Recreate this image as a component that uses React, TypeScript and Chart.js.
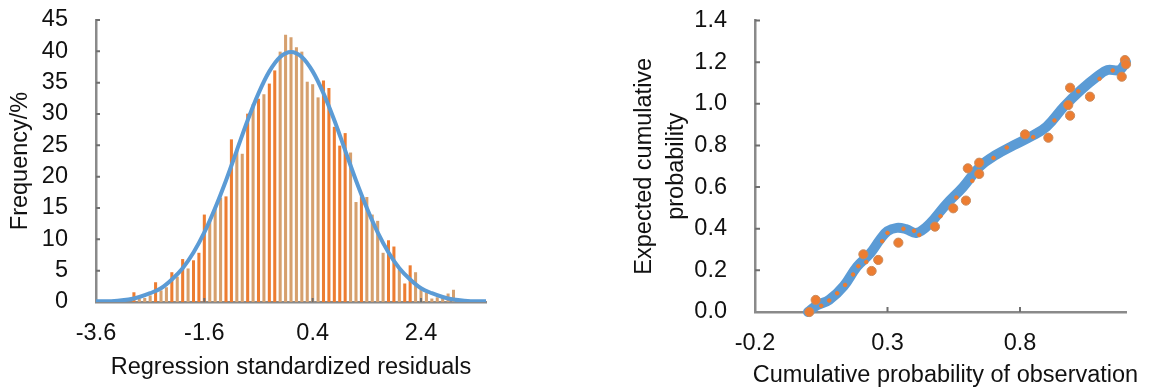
import React, { useEffect, useRef } from 'react';
import { Chart, registerables } from 'chart.js';

Chart.register(...registerables);

// ---------- Left chart: histogram of regression standardized residuals ----------
const HIST_X_TICKS = [-3.6, -1.6, 0.4, 2.4];
const BAR_X = [
  -2.9, -2.8, -2.7, -2.6, -2.5, -2.4, -2.3, -2.2, -2.1, -2.0,
  -1.9, -1.8, -1.7, -1.6, -1.5, -1.4, -1.3, -1.2, -1.1, -1.0,
  -0.9, -0.8, -0.7, -0.6, -0.5, -0.4, -0.3, -0.2, -0.1, 0.0,
  0.1, 0.2, 0.3, 0.4, 0.5, 0.6, 0.7, 0.8, 0.9, 1.0,
  1.1, 1.2, 1.3, 1.4, 1.5, 1.6, 1.7, 1.8, 1.9, 2.0,
  2.1, 2.2, 2.3, 2.4, 2.5, 2.6, 2.7, 2.8, 2.9, 3.0,
];
const BAR_FREQ = [
  1.5, 0.5, 0.6, 1.0, 3.1, 1.8, 2.3, 4.7, 4.0, 6.8,
  5.3, 6.6, 7.8, 13.9, 13.0, 15.0, 16.6, 16.8, 25.9, 24.2,
  23.6, 30.0, 31.5, 32.4, 33.1, 34.8, 36.9, 39.9, 42.6, 42.2,
  40.6, 39.9, 35.1, 34.7, 32.6, 35.3, 34.1, 27.9, 24.9, 26.9,
  23.8, 15.9, 16.8, 16.7, 13.9, 12.9, 7.8, 9.8, 8.8, 5.1,
  2.9, 5.8, 4.7, 1.9, 1.5, 0.5, 0.7, 0.6, 1.3, 1.9,
];
// tone of each bar as it appears in the picture: o = bright orange, t = tan
const BAR_TONE = [
  'o', 't', 't', 't', 'o', 't', 't', 'o', 't', 'o',
  't', 'o', 'o', 'o', 't', 't', 't', 'o', 'o', 't',
  't', 'o', 't', 'o', 't', 'o', 'o', 't', 't', 't',
  't', 't', 't', 't', 't', 'o', 'o', 'o', 'o', 'o',
  't', 't', 'o', 't', 't', 't', 't', 'o', 'o', 't',
  'o', 'o', 't', 't', 't', 't', 't', 't', 't', 't',
];
const CURVE_X = [
  -3.6, -3.4, -3.2, -3.0, -2.8, -2.6, -2.4, -2.2, -2.0, -1.8,
  -1.6, -1.4, -1.2, -1.0, -0.8, -0.6, -0.4, -0.2, 0.0, 0.2,
  0.4, 0.6, 0.8, 1.0, 1.2, 1.4, 1.6, 1.8, 2.0, 2.2,
  2.4, 2.6, 2.8, 3.0, 3.2, 3.4, 3.6,
];
const CURVE_Y = [
  0.1, 0.1, 0.2, 0.4, 0.8, 1.4, 2.2, 3.6, 5.4, 7.9,
  11.1, 15.0, 19.4, 24.2, 29.0, 33.3, 36.8, 39.1, 39.9, 39.1,
  36.8, 33.3, 29.0, 24.2, 19.4, 15.0, 11.1, 7.9, 5.4, 3.6,
  2.2, 1.4, 0.8, 0.4, 0.2, 0.1, 0.1,
];

// ---------- Right chart: cumulative probability plot ----------
const PP_X_TICKS = [-0.2, 0.3, 0.8];
const PP_Y_TICKS = [0, 0.2, 0.4, 0.6, 0.8, 1.0, 1.2, 1.4];
const EXPECTED_X = [
  0.0, 0.035, 0.08, 0.135, 0.185, 0.235, 0.272, 0.30, 0.335, 0.37,
  0.41, 0.46, 0.52, 0.585, 0.65, 0.71, 0.775, 0.84, 0.90, 0.965,
  1.03, 1.09, 1.13, 1.175, 1.2,
];
const EXPECTED_Y = [
  0.0, 0.033, 0.058, 0.125, 0.218, 0.282, 0.348, 0.388, 0.404, 0.398,
  0.38, 0.425, 0.515, 0.60, 0.70, 0.755, 0.80, 0.842, 0.89, 0.985,
  1.066, 1.13, 1.162, 1.162, 1.2,
];
const OBS_X = [
  0.005, 0.029, 0.05, 0.08, 0.11, 0.14, 0.17, 0.19, 0.209, 0.22,
  0.24, 0.265, 0.28, 0.30, 0.341, 0.36, 0.40, 0.42, 0.479, 0.50,
  0.548, 0.56, 0.596, 0.603, 0.62, 0.646, 0.646, 0.70, 0.75, 0.819,
  0.85, 0.907, 0.93, 0.982, 0.989, 0.989, 1.02, 1.064, 1.10, 1.15,
  1.184, 1.196, 1.2,
];
const OBS_Y = [
  0.0, 0.058, 0.03, 0.055, 0.09, 0.13, 0.18, 0.22, 0.277, 0.24,
  0.197, 0.25, 0.34, 0.38, 0.333, 0.40, 0.39, 0.37, 0.41, 0.46,
  0.498, 0.55, 0.535, 0.69, 0.63, 0.717, 0.663, 0.74, 0.79, 0.853,
  0.84, 0.837, 0.92, 0.994, 1.077, 0.943, 1.06, 1.034, 1.12, 1.16,
  1.13, 1.21, 1.19,
];
// L = large dot, S = small dot
const OBS_SIZE = [
  'L', 'L', 'S', 'S', 'S', 'S', 'S', 'S', 'L', 'S',
  'L', 'L', 'S', 'S', 'L', 'S', 'S', 'S', 'L', 'S',
  'L', 'S', 'L', 'L', 'S', 'L', 'L', 'S', 'S', 'L',
  'S', 'L', 'S', 'L', 'L', 'L', 'S', 'L', 'S', 'S',
  'L', 'L', 'L',
];

const FONT_FAMILY = '"Liberation Sans", Arial, Helvetica, sans-serif';
const TEXT_COLOR = '#111111';
const AXIS_COLOR = '#8a8a8a';
const TICK_MARK_COLOR = '#6f6f6f';
const BLUE = '#5B9BD5';
const ORANGE = '#ED7D31';
const TAN = '#D6A06E';

const innerTicks = {
  id: 'innerTicks',
  afterDatasetsDraw(chart: any, _args: any, opts: any) {
    const { ctx, chartArea, scales } = chart;
    ctx.save();
    ctx.strokeStyle = opts.color;
    ctx.lineWidth = opts.width;
    ctx.beginPath();
    scales.x.ticks.forEach((t: any) => {
      const px = scales.x.getPixelForValue(t.value);
      if (px <= chartArea.left + 2) return;
      ctx.moveTo(px, chartArea.bottom);
      ctx.lineTo(px, chartArea.bottom - opts.len);
    });
    scales.y.ticks.forEach((t: any) => {
      const py = scales.y.getPixelForValue(t.value);
      if (py >= chartArea.bottom - 2) return;
      ctx.moveTo(chartArea.left, py);
      ctx.lineTo(chartArea.left + opts.len, py);
    });
    ctx.stroke();
    ctx.restore();
  },
};

const freeTitle = {
  id: 'freeTitle',
  afterDraw(chart: any, _args: any, opts: any) {
    if (!opts || !opts.text) return;
    const { ctx, chartArea } = chart;
    ctx.save();
    ctx.font = `${opts.size}px ${FONT_FAMILY}`;
    ctx.fillStyle = TEXT_COLOR;
    ctx.textAlign = 'center';
    ctx.textBaseline = 'alphabetic';
    ctx.fillText(opts.text, (chartArea.left + chartArea.right) / 2 + opts.dx, opts.y);
    ctx.restore();
  },
};

const tickFont = { family: FONT_FAMILY, size: 23.5 };
const titleFont = { family: FONT_FAMILY, size: 23.5 };

const fixHeight = (h: number) => (s: any) => {
  s.height = h;
  s.paddingLeft = 0;
  s.paddingRight = 0;
  s.paddingTop = 0;
  s.paddingBottom = 0;
};
const fixWidth = (w: number) => (s: any) => {
  s.width = w;
  s.paddingLeft = 0;
  s.paddingRight = 0;
  s.paddingTop = 0;
  s.paddingBottom = 0;
};

function HistogramChart() {
  const ref = useRef<HTMLCanvasElement | null>(null);
  useEffect(() => {
    if (!ref.current) return;
    const chart = new Chart(ref.current, {
      type: 'bar',
      data: {
        datasets: [
          {
            type: 'line',
            label: 'Normal curve',
            data: CURVE_X.map((x, i) => ({ x, y: CURVE_Y[i] })),
            borderColor: BLUE,
            borderWidth: 4,
            pointRadius: 0,
            cubicInterpolationMode: 'monotone',
            order: 0,
          } as any,
          {
            type: 'bar',
            label: 'Frequency',
            data: BAR_X.map((x, i) => ({ x, y: BAR_FREQ[i] })),
            backgroundColor: BAR_TONE.map((t) => (t === 'o' ? ORANGE : TAN)),
            barThickness: 2.4,
            grouped: false,
            order: 1,
          } as any,
        ],
      },
      options: {
        responsive: false,
        animation: false,
        layout: { padding: { top: 20, right: 24, bottom: 8, left: 0 } },
        plugins: {
          legend: { display: false },
          tooltip: { enabled: false },
          innerTicks: { color: TICK_MARK_COLOR, width: 2, len: 4 },
        } as any,
        scales: {
          x: {
            type: 'linear',
            offset: false,
            min: -3.6,
            max: 3.6,
            afterBuildTicks: (s: any) => {
              s.ticks = HIST_X_TICKS.map((v) => ({ value: v }));
            },
            afterFit: fixHeight(80),
            grid: { display: false, drawTicks: false, offset: false },
            border: { color: AXIS_COLOR, width: 2.5 },
            ticks: {
              padding: 17,
              font: tickFont,
              color: TEXT_COLOR,
              maxRotation: 0,
              autoSkip: false,
              callback: (v: any) => Number(v).toFixed(1),
            },
            title: {
              display: true,
              text: 'Regression standardized residuals',
              font: titleFont,
              color: TEXT_COLOR,
              padding: 0,
            },
          },
          y: {
            min: 0,
            max: 45,
            afterFit: fixWidth(96),
            grid: { display: false, drawTicks: false },
            border: { color: AXIS_COLOR, width: 2.5 },
            ticks: { stepSize: 5, autoSkip: false, padding: 28, font: tickFont, color: TEXT_COLOR },
            title: {
              display: true,
              text: 'Frequency/%',
              font: titleFont,
              color: TEXT_COLOR,
              padding: { top: 6.5, bottom: 0 },
            },
          },
        },
      } as any,
      plugins: [innerTicks],
    });
    return () => chart.destroy();
  }, []);
  return <canvas ref={ref} width={510} height={390} style={{ position: 'absolute', left: 0, top: 0 }} />;
}

function ProbabilityChart() {
  const ref = useRef<HTMLCanvasElement | null>(null);
  useEffect(() => {
    if (!ref.current) return;
    const chart = new Chart(ref.current, {
      type: 'scatter',
      data: {
        datasets: [
          {
            label: 'Observed',
            data: OBS_X.map((x, i) => ({ x, y: OBS_Y[i] })),
            showLine: false,
            pointRadius: OBS_SIZE.map((s) => (s === 'L' ? 4.6 : 1.8)),
            pointBackgroundColor: ORANGE,
            pointBorderColor: OBS_SIZE.map((s) => (s === 'L' ? '#C98B5E' : ORANGE)),
            pointBorderWidth: 1,
            clip: false,
            order: 0,
          } as any,
          {
            label: 'Expected',
            data: EXPECTED_X.map((x, i) => ({ x, y: EXPECTED_Y[i] })),
            showLine: true,
            borderColor: BLUE,
            borderWidth: 10,
            borderCapStyle: 'round',
            borderJoinStyle: 'round',
            pointRadius: 0,
            tension: 0.4,
            clip: false,
            order: 1,
          } as any,
        ],
      },
      options: {
        responsive: false,
        animation: false,
        layout: { padding: { top: 20.5, right: 32, bottom: 8, left: 0 } },
        plugins: {
          legend: { display: false },
          tooltip: { enabled: false },
          innerTicks: { color: TICK_MARK_COLOR, width: 2, len: 5 },
          freeTitle: { text: 'Cumulative probability of observation', size: 23.5, dx: 5, y: 381.5 },
        } as any,
        scales: {
          x: {
            type: 'linear',
            min: -0.2,
            max: 1.2,
            afterBuildTicks: (s: any) => {
              s.ticks = PP_X_TICKS.map((v) => ({ value: v }));
            },
            afterFit: fixHeight(70),
            grid: { display: false, drawTicks: false },
            border: { color: AXIS_COLOR, width: 2.5 },
            ticks: {
              padding: 17,
              font: tickFont,
              color: TEXT_COLOR,
              maxRotation: 0,
              autoSkip: false,
              callback: (v: any) => Number(v).toFixed(1),
            },
          },
          y: {
            min: 0,
            max: 1.4,
            afterBuildTicks: (s: any) => {
              s.ticks = PP_Y_TICKS.map((v) => ({ value: v }));
            },
            afterFit: fixWidth(135),
            grid: { display: false, drawTicks: false },
            border: { color: AXIS_COLOR, width: 2.5 },
            ticks: {
              padding: 28,
              font: tickFont,
              color: TEXT_COLOR,
              autoSkip: false,
              callback: (v: any) => Number(v).toFixed(1),
            },
            title: {
              display: true,
              text: ['Expected cumulative', 'probability'],
              font: { family: FONT_FAMILY, size: 23.5, lineHeight: 1.32 },
              color: TEXT_COLOR,
              padding: { top: 9.5, bottom: 0 },
            },
          },
        },
      } as any,
      plugins: [innerTicks, freeTitle],
    });
    return () => chart.destroy();
  }, []);
  return <canvas ref={ref} width={538} height={390} style={{ position: 'absolute', left: 620, top: 0 }} />;
}

export default function App() {
  return (
    <div style={{ position: 'absolute', left: 0, top: 0, width: 1158, height: 390, background: '#ffffff', overflow: 'hidden' }}>
      <HistogramChart />
      <ProbabilityChart />
    </div>
  );
}
